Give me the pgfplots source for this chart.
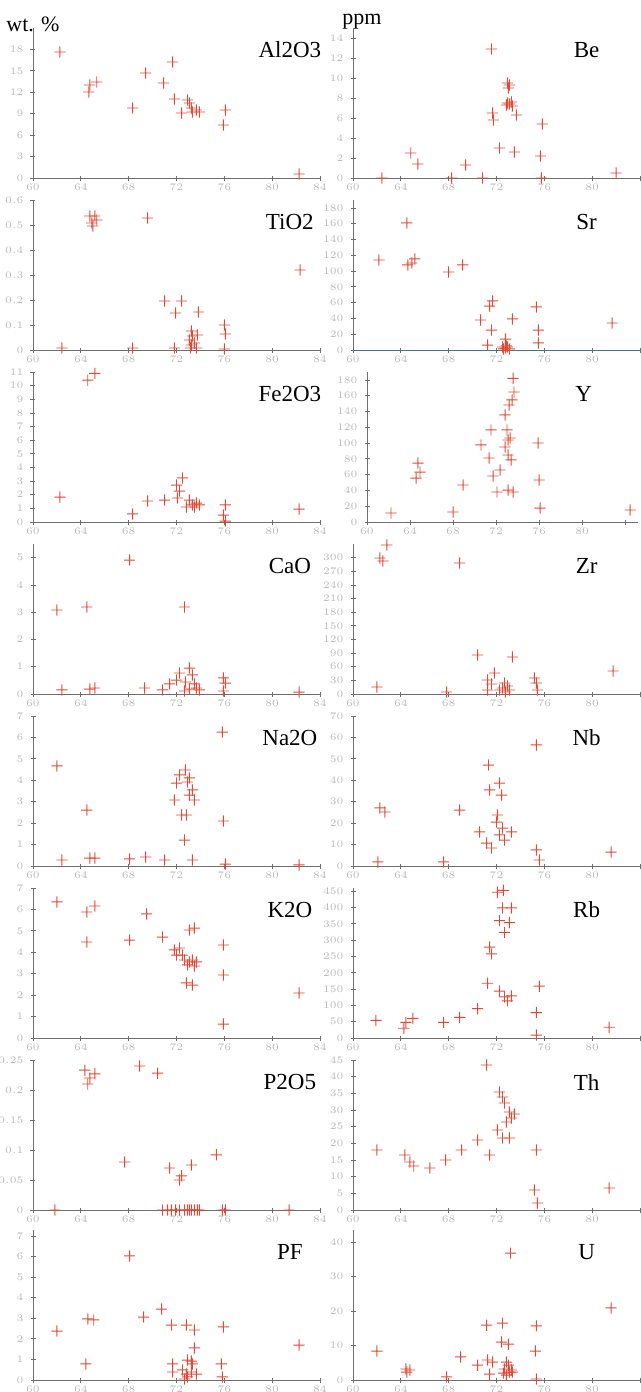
\documentclass[border=0pt]{standalone}
\usepackage{pgfplots}
\pgfplotsset{compat=1.18}
\usepackage{fontspec}
\setmainfont{Liberation Serif}
\definecolor{crossred}{RGB}{228,72,52}
\definecolor{axgray}{RGB}{110,110,110}
\pgfdeclareplotmark{redplus}{%
  \pgfsetfillcolor{crossred}%
  \pgfpathrectangle{\pgfpoint{-2.8pt}{-0.24pt}}{\pgfpoint{5.6pt}{0.48pt}}%
  \pgfpathrectangle{\pgfpoint{-0.24pt}{-2.8pt}}{\pgfpoint{0.48pt}{5.6pt}}%
  \pgfusepathqfill}
\pgfplotsset{
  panel/.style={scale only axis, width=143.5pt, height=75pt, anchor=south west,
    axis lines=left, axis line style={-, axgray, line width=0.4pt},
    xmin=60, xmax=84, xtick={60,64,...,84}, ymin=0,
    tick align=center, major tick length=2.5pt,
    tick style={axgray, line width=0.4pt},
    ticklabel style={font=\fontsize{3.5}{4}\selectfont, text=gray!55},
    xticklabel style={yshift=2pt},
    yticklabel style={/pgf/number format/fixed},
    clip=false},
  rpanel/.style={panel, xtick={60,64,...,80}, extra x ticks={84}, extra x tick labels={}},
  pts/.style={only marks, mark=redplus, color=crossred, fill=crossred, draw=none},
}
\tikzset{lab/.style={font=\fontsize{11.5}{12}\selectfont, anchor=center, text=black}}
\begin{document}
\begin{tikzpicture}
\useasboundingbox (0,0) rectangle (320.5pt,-696pt);
\node[font=\fontsize{11}{12}\selectfont] at (16.5pt,-12pt) {wt. \%};
\node[font=\fontsize{11}{12}\selectfont] at (181pt,-11pt) {ppm};

% ---------- Al2O3
\begin{axis}[panel, at={(16.5pt,-89pt)}, ymax=21, ytick={0,3,...,18}]
\addplot[pts] coordinates {(62.25,17.64)(64.75,13.02)(64.67,12.04)(65.33,13.44)(68.33,9.8)(69.42,14.7)(70.92,13.3)(71.67,16.24)(71.83,11.06)(72.42,9.1)(72.92,10.92)(73.08,10.5)(73.25,9.8)(73.33,9.24)(73.67,9.52)(73.92,9.24)(76.08,9.52)(75.92,7.42)(82.25,0.56)};
\node[lab] at (rel axis cs:0.895,0.853) {Al2O3};
\end{axis}
% ---------- Be
\begin{axis}[rpanel, at={(176.5pt,-89pt)}, ymax=15, ytick={0,2,...,14}]
\addplot[pts] coordinates {(71.58,12.9)(72.92,9.5)(73.08,9.3)(73.0,9.0)(72.92,7.5)(73.08,7.4)(72.83,7.3)(73.25,7.6)(73.33,7.2)(73.67,6.3)(71.67,6.5)(71.75,5.8)(75.83,5.4)(72.25,3.0)(73.5,2.6)(75.67,2.2)(64.83,2.5)(65.42,1.4)(69.42,1.3)(82.0,0.5)(62.42,0)(68.25,0)(70.83,0)(75.75,0)};
\node[lab] at (rel axis cs:0.814,0.853) {Be};
\end{axis}
% ---------- TiO2
\begin{axis}[panel, at={(16.5pt,-175pt)}, ymax=0.6, ytick={0,0.1,...,0.6}]
\addplot[pts] coordinates {(64.75,0.536)(65.17,0.536)(64.92,0.508)(65.33,0.52)(65.0,0.496)(69.58,0.528)(82.33,0.32)(71.0,0.196)(72.42,0.196)(71.92,0.148)(73.83,0.152)(76.0,0.1)(76.08,0.064)(73.25,0.076)(73.33,0.056)(73.75,0.06)(73.08,0.04)(73.25,0.02)(73.5,0.028)(73.17,0.008)(73.67,0.008)(71.83,0.008)(62.42,0.008)(68.33,0.008)(76.0,0.004)};
\node[lab] at (rel axis cs:0.895,0.853) {TiO2};
\end{axis}
% ---------- Sr
\begin{axis}[rpanel, at={(176.5pt,-175pt)}, ymax=190, ytick={0,20,...,180},
  x axis line style={draw=teal!60!gray}]
\addplot[pts] coordinates {(64.5,160.9)(62.17,114)(64.58,107.7)(65.17,115.3)(64.92,110.2)(68.0,98.8)(69.17,107.7)(71.67,62.1)(71.42,55.7)(70.67,38)(71.58,25.3)(73.33,39.3)(75.33,54.5)(75.5,25.3)(75.5,8.9)(71.25,6.3)(81.67,34.2)(72.75,13.9)(72.5,3.8)(72.75,2.5)(72.92,3.8)(73.08,1.3)(72.58,1.3)(72.83,5.1)};
\node[lab] at (rel axis cs:0.814,0.853) {Sr};
\end{axis}
% ---------- Fe2O3
\begin{axis}[panel, at={(16.5pt,-261pt)}, ymax=11, ytick={0,1,...,11}]
\addplot[pts] coordinates {(64.58,10.4)(65.17,10.9)(62.25,1.83)(68.33,0.59)(69.58,1.54)(71.0,1.61)(72.0,2.71)(72.5,3.23)(72.25,2.27)(72.08,1.76)(73.08,1.61)(73.33,1.25)(73.67,1.39)(72.83,1.10)(73.5,1.10)(73.92,1.25)(76.08,1.25)(75.92,0.51)(76.08,0.07)(82.25,0.95)};
\node[lab] at (rel axis cs:0.895,0.853) {Fe2O3};
\end{axis}
% ---------- Y
\begin{axis}[rpanel, at={(183.5pt,-261pt)}, width=135.5pt, xmax=85.2, ymax=190, ytick={0,20,...,180}]
\addplot[pts] coordinates {(62.23,11.4)(64.74,74.7)(64.93,63.3)(64.56,55.7)(68.93,46.9)(68.0,12.7)(70.6,97.6)(71.53,116.6)(71.35,81.1)(71.72,58.3)(72.37,65.9)(72.09,38)(72.84,135.6)(73.21,148.2)(73.49,154.6)(73.02,116.6)(73.12,103.9)(72.84,95)(73.3,106.4)(73.12,84.9)(73.4,78.6)(73.12,40.5)(73.58,38)(73.58,182)(73.67,164.7)(76.0,53.2)(75.91,100.1)(76.09,17.7)(84.47,15.2)};
\node[lab] at (rel axis cs:0.8,0.853) {Y};
\end{axis}
% ---------- CaO
\begin{axis}[panel, at={(16.5pt,-347pt)}, ymax=5.5, ytick={0,1,...,5}]
\addplot[pts] coordinates {(68.08,4.91)(62.0,3.08)(64.5,3.19)(72.67,3.19)(62.42,0.15)(64.75,0.18)(65.17,0.22)(69.33,0.22)(70.83,0.15)(71.42,0.37)(72.0,0.51)(72.25,0.77)(73.08,0.95)(73.33,0.70)(72.75,0.44)(73.5,0.37)(73.08,0.18)(73.67,0.22)(72.67,0.11)(73.92,0.15)(75.92,0.59)(76.08,0.40)(75.92,0.11)(82.25,0.07)};
\node[lab] at (rel axis cs:0.895,0.853) {CaO};
\end{axis}
% ---------- Zr
\begin{axis}[rpanel, at={(176.5pt,-347pt)}, ymax=330, ytick={0,30,...,300}]
\addplot[pts] coordinates {(62.83,327.8)(62.25,299.2)(62.5,292.6)(68.92,288.2)(62.0,15.4)(67.83,4.4)(70.42,85.8)(71.25,30.8)(71.58,22)(71.83,46.2)(71.25,8.8)(72.5,13.2)(72.67,24.2)(72.92,17.6)(73.08,8.8)(72.25,8.8)(72.75,4.4)(73.33,81.4)(75.33,24.2)(75.42,8.8)(75.17,35.2)(81.75,50.6)};
\node[lab] at (rel axis cs:0.814,0.853) {Zr};
\end{axis}
% ---------- Na2O
\begin{axis}[panel, at={(16.5pt,-433pt)}, ymax=7, ytick={0,1,...,7}]
\addplot[pts] coordinates {(62.0,4.67)(64.5,2.61)(62.42,0.28)(64.75,0.37)(65.17,0.37)(68.08,0.33)(69.42,0.42)(71.0,0.28)(75.83,6.25)(75.92,2.1)(76.08,0.09)(82.25,0.05)(71.83,3.08)(72.0,3.87)(72.25,4.25)(72.75,4.48)(72.92,3.92)(73.08,4.11)(73.33,3.55)(73.5,3.08)(73.08,3.31)(72.83,2.38)(72.42,2.38)(72.67,1.21)(73.33,0.28)};
\node[lab] at (rel axis cs:0.895,0.853) {Na2O};
\end{axis}
% ---------- Nb
\begin{axis}[rpanel, at={(176.5pt,-433pt)}, ymax=70, ytick={0,10,...,70}]
\addplot[pts] coordinates {(75.33,56.5)(71.33,47.1)(71.42,35.5)(72.25,38.7)(72.42,33.1)(62.25,27.1)(62.67,25.2)(68.92,26.1)(72.08,23.8)(72.0,20.5)(72.5,17.7)(72.25,14.5)(72.67,12.1)(73.25,15.9)(70.58,15.9)(71.17,10.7)(71.58,8.4)(75.33,7.5)(75.58,2.8)(81.58,6.5)(62.08,1.9)(67.58,1.9)};
\node[lab] at (rel axis cs:0.814,0.853) {Nb};
\end{axis}
% ---------- K2O
\begin{axis}[panel, at={(16.5pt,-519pt)}, ymax=7, ytick={0,1,...,7}]
\addplot[pts] coordinates {(62.0,6.35)(64.5,5.88)(65.17,6.16)(64.5,4.48)(68.08,4.57)(69.5,5.79)(70.83,4.71)(71.83,4.11)(72.0,3.87)(72.25,4.2)(72.5,3.87)(72.67,3.64)(72.92,3.41)(73.08,3.55)(73.33,3.64)(73.5,3.36)(73.67,3.55)(73.08,5.04)(73.5,5.13)(72.83,2.57)(73.33,2.47)(75.92,4.34)(75.92,2.94)(75.92,0.65)(82.25,2.1)};
\node[lab] at (rel axis cs:0.895,0.853) {K2O};
\end{axis}
% ---------- Rb
\begin{axis}[rpanel, at={(176.5pt,-519pt)}, ymax=460, ytick={0,50,...,450}]
\addplot[pts] coordinates {(72.08,447)(72.58,453)(72.5,399)(72.25,360)(73.25,399)(73.08,354)(72.67,324)(71.42,279)(71.58,258)(71.25,168)(72.67,126)(72.92,114)(73.25,129)(72.25,144)(70.42,90)(68.92,63)(67.58,48)(61.92,54)(64.42,48)(65.0,60)(64.25,30)(75.33,78)(75.58,159)(75.33,9)(81.42,33)};
\node[lab] at (rel axis cs:0.814,0.853) {Rb};
\end{axis}
% ---------- P2O5
\begin{axis}[panel, at={(16.5pt,-605pt)}, ymax=0.25, ytick={0,0.05,...,0.25}]
\addplot[pts] coordinates {(64.33,0.233)(64.75,0.22)(64.58,0.21)(65.17,0.227)(68.92,0.24)(70.42,0.228)(67.67,0.08)(71.42,0.07)(72.25,0.05)(72.42,0.057)(73.25,0.075)(75.33,0.092)
(61.83,0)(70.83,0)(71.25,0)(71.58,0)(71.92,0)(72.25,0)(72.67,0)(72.92,0)(73.08,0)(73.25,0)(73.5,0)(73.75,0)(73.92,0)(75.83,0)(76.08,0)(81.42,0)};
\node[lab] at (rel axis cs:0.895,0.853) {P2O5};
\end{axis}
% ---------- Th
\begin{axis}[rpanel, at={(176.5pt,-605pt)}, ymax=45, ytick={0,5,...,45}]
\addplot[pts] coordinates {(71.17,43.5)(72.25,35.4)(72.5,33.9)(72.67,32.1)(73.08,29.4)(73.25,27.6)(72.83,26.4)(73.5,28.8)(72.08,24)(72.5,21.6)(73.08,21.6)(71.42,16.5)(70.42,21)(69.08,18)(67.75,15)(66.42,12.6)(62.0,18)(64.33,16.5)(64.75,14.4)(65.08,13.2)(75.33,18)(75.17,6)(75.42,2.1)(81.42,6.6)};
\node[lab] at (rel axis cs:0.814,0.853) {Th};
\end{axis}
% ---------- PF
\begin{axis}[panel, at={(16.5pt,-690pt)}, ymax=7.29, ytick={0,1,...,7}]
\addplot[pts] coordinates {(68.08,6.03)(70.75,3.45)(69.25,3.06)(64.58,2.97)(65.08,2.92)(62.0,2.38)(71.58,2.67)(72.83,2.67)(73.5,2.43)(75.92,2.58)(73.5,1.56)(82.25,1.7)(64.42,0.78)(71.67,0.78)(72.92,0.97)(73.25,0.92)(73.33,0.78)(71.67,0.39)(72.5,0.49)(72.83,0.29)(73.25,0.39)(73.67,0.29)(72.67,0.05)(72.92,0.15)(75.75,0.78)(75.83,0.15)};
\node[lab] at (rel axis cs:0.895,0.853) {PF};
\end{axis}
% ---------- U
\begin{axis}[rpanel, at={(176.5pt,-690pt)}, ymax=43.5, ytick={0,10,...,40}]
\addplot[pts] coordinates {(73.17,36.8)(81.58,20.9)(71.17,15.9)(72.5,16.5)(75.33,15.7)(72.42,11.0)(73.0,10.4)(62.0,8.4)(75.25,8.4)(69.0,6.7)(71.25,5.8)(71.67,5.2)(70.42,4.3)(64.42,3.2)(64.75,2.9)(64.5,2.3)(67.83,0.9)(72.83,5.2)(73.0,4.3)(72.67,3.2)(73.25,2.9)(72.58,2.0)(72.83,1.4)(73.08,2.3)(71.42,1.7)(73.33,2.3)(75.33,0.3)};
\node[lab] at (rel axis cs:0.814,0.853) {U};
\end{axis}
\end{tikzpicture}
\end{document}
